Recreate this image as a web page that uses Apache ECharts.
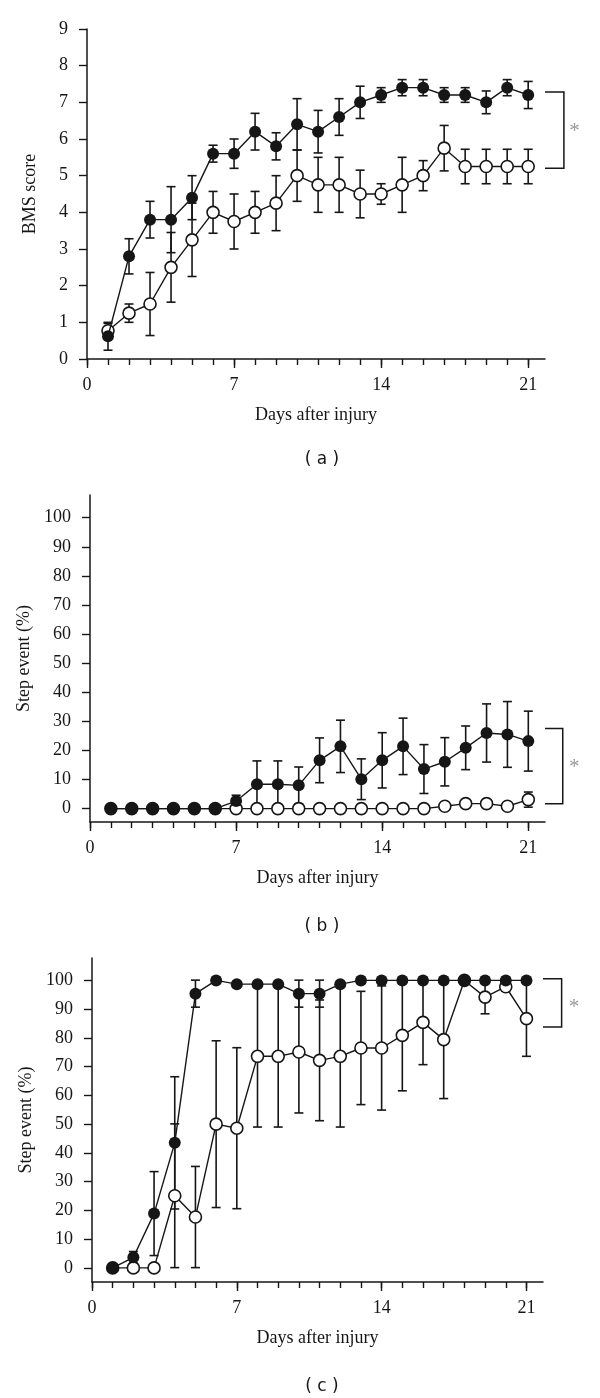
<!DOCTYPE html>
<html>
<head>
<meta charset="utf-8">
<script src="https://cdn.jsdelivr.net/npm/echarts@6/dist/echarts.min.js"></script>
<style>
html,body{margin:0;padding:0;background:#fff;}
#chart{width:600px;height:1398px;}
</style>
</head>
<body>
<div id="chart"></div>
<script>
// ---------- data ----------
const days = [1,2,3,4,5,6,7,8,9,10,11,12,13,14,15,16,17,18,19,20,21];
const dayTicks = [0,1,2,3,4,5,6,7,8,9,10,11,12,13,14,15,16,17,18,19,20,21];
const dayLabels = [0,7,14,21];
const bmsTicks = [0,1,2,3,4,5,6,7,8,9];
const pctTicks = [0,10,20,30,40,50,60,70,80,90,100];

// (a) BMS score
const aFilled    = [0.62,2.8,3.8,3.8,4.4,5.6,5.6,6.2,5.8,6.4,6.2,6.6,7.0,7.2,7.4,7.4,7.2,7.2,7.0,7.4,7.2];
const aFilledErr = [0.38,0.48,0.5,0.9,0.6,0.23,0.4,0.5,0.37,0.7,0.58,0.5,0.44,0.2,0.22,0.22,0.2,0.2,0.31,0.22,0.37];
const aOpen      = [0.77,1.25,1.5,2.5,3.25,4.0,3.75,4.0,4.25,5.0,4.75,4.75,4.5,4.5,4.75,5.0,5.75,5.25,5.25,5.25,5.25];
const aOpenErr   = [0.2,0.25,0.86,0.95,1.0,0.57,0.75,0.57,0.75,0.7,0.75,0.75,0.65,0.28,0.75,0.41,0.62,0.47,0.47,0.47,0.47];

// (b) Step event (%)
const bFilled    = [0,0,0,0,0,0,2.6,8.4,8.4,8.0,16.6,21.4,10.1,16.6,21.4,13.6,16.1,20.9,26.0,25.5,23.2];
const bFilledErr = [0,0,0,0,0,0,2.0,8.0,8.0,6.3,7.7,9.0,7.0,9.5,9.7,8.4,8.3,7.5,10.0,11.3,10.3];
const bOpen      = [0,0,0,0,0,0,0,0,0,0,0,0,0,0,0,0,0.8,1.7,1.7,0.8,3.1];
const bOpenErr   = [0,0,0,0,0,0,0,0,0,0,0,0,0,0,0,0,0,0,0,0,2.6];

// (c) Step event (%)
const cFilled    = [0,3.7,18.9,43.5,95.4,100,98.7,98.7,98.7,95.4,95.4,98.7,100,100,100,100,100,100,100,100,100];
const cFilledErr = [0,2.0,14.6,23.0,4.7,0,0,0,0,4.7,4.7,0,0,0,0,0,0,0,0,0,0];
const cOpen      = [0,0,0,25.1,17.7,50,48.6,73.6,73.6,75.1,72.2,73.6,76.5,76.5,80.9,85.4,79.4,100,94.2,97.8,86.7];
const cOpenErr   = [0,0,0,25,17.6,29,28,24.6,24.6,21.2,21,24.6,19.7,21.6,19.3,14.7,20.5,0,5.8,1.5,13.1];

// significance brackets [top, bottom] and label
const bracketA = [7.28, 5.2];
const bracketB = [27.5, 1.7];
const bracketC = [100.6, 83.8];
const starLabel = '*';
const panelLabels = ['( a )', '( b )', '( c )'];
const xName = 'Days after injury';
const yNames = ['BMS score', 'Step event (%)', 'Step event (%)'];

// ---------- layout ----------
const INK = '#161616';
const SERIF = '"Liberation Serif", "Times New Roman", serif';
const panels = [
  {grid:{left:87, top:29, width:458, height:330}, ymin:0, ymax:9, yTicks:bmsTicks,
   filled:aFilled, filledErr:aFilledErr, open:aOpen, openErr:aOpenErr, bracket:bracketA, starY:6.35, bx2:22.7, starX:23.2},
  {grid:{left:90, top:495, width:455, height:327}, ymin:-4.6, ymax:107.8, yTicks:pctTicks,
   filled:bFilled, filledErr:bFilledErr, open:bOpen, openErr:bOpenErr, bracket:bracketB, starY:16.0, bx2:22.65, starX:23.2},
  {grid:{left:92, top:958, width:451, height:324}, ymin:-4.9, ymax:107.8, yTicks:pctTicks,
   filled:cFilled, filledErr:cFilledErr, open:cOpen, openErr:cOpenErr, bracket:bracketC, starY:92.2, bx2:22.7, starX:23.3}
];
const XMAX = 21.8;

function errRender(params, api) {
  const x = api.value(0), y = api.value(1), e = api.value(2);
  if (!e) return null;
  const hi = api.coord([x, y + e]);
  const lo = api.coord([x, y - e]);
  const w = 4.5;
  const st = {stroke: INK, lineWidth: 1.6};
  return {type:'group', children:[
    {type:'line', shape:{x1:hi[0], y1:hi[1], x2:lo[0], y2:lo[1]}, style:st},
    {type:'line', shape:{x1:hi[0]-w, y1:hi[1], x2:hi[0]+w, y2:hi[1]}, style:st},
    {type:'line', shape:{x1:lo[0]-w, y1:lo[1], x2:lo[0]+w, y2:lo[1]}, style:st}
  ]};
}

function bracketRender(params, api) {
  const x1 = api.value(0), x2 = api.value(1), top = api.value(2), bot = api.value(3);
  const a = api.coord([x1, top]), b = api.coord([x2, top]);
  const c = api.coord([x2, bot]), d = api.coord([x1, bot]);
  return {type:'polyline', shape:{points:[a, b, c, d]},
          style:{stroke: INK, lineWidth: 1.5, fill: null}};
}

const grids = [], xAxes = [], yAxes = [], series = [];
panels.forEach((p, i) => {
  grids.push(p.grid);
  xAxes.push({
    type:'value', gridIndex:i, min:0, max:XMAX,
    name: xName, nameLocation:'middle', nameGap:47,
    nameTextStyle:{fontFamily:SERIF, fontSize:18, color:INK},
    axisLine:{show:true, onZero:false, lineStyle:{color:INK, width:1.5}},
    axisTick:{show:true, customValues:dayTicks, length:6, lineStyle:{color:INK, width:1.4}},
    axisLabel:{customValues:dayLabels, margin:17, fontFamily:SERIF, fontSize:18, color:INK},
    splitLine:{show:false}
  });
  xAxes.push({
    type:'value', gridIndex:i, min:0, max:XMAX, position:'bottom',
    axisLine:{show:false, onZero:false},
    axisTick:{show:true, customValues:dayLabels, length:9, lineStyle:{color:INK, width:1.4}},
    axisLabel:{show:false}, splitLine:{show:false}
  });
  yAxes.push({
    type:'value', gridIndex:i, min:p.ymin, max:p.ymax,
    name: yNames[i], nameLocation:'middle', nameGap:48,
    nameTextStyle:{fontFamily:SERIF, fontSize:18, color:INK},
    axisLine:{show:true, onZero:false, lineStyle:{color:INK, width:1.5}},
    axisTick:{show:true, customValues:p.yTicks, length:8, lineStyle:{color:INK, width:1.4}},
    axisLabel:{customValues:p.yTicks, margin:19, fontFamily:SERIF, fontSize:18, color:INK},
    splitLine:{show:false}
  });
  const xi = i * 2;
  series.push({
    type:'custom', xAxisIndex:xi, yAxisIndex:i, renderItem:errRender, z:1, silent:true,
    data: days.map((d, k) => [d, p.open[k], p.openErr[k]])
  });
  series.push({
    type:'custom', xAxisIndex:xi, yAxisIndex:i, renderItem:errRender, z:1, silent:true,
    data: days.map((d, k) => [d, p.filled[k], p.filledErr[k]])
  });
  series.push({
    type:'line', xAxisIndex:xi, yAxisIndex:i, z:3, silent:true, animation:false,
    symbol:'circle', symbolSize:12, showAllSymbol:true,
    lineStyle:{color:INK, width:1.4},
    itemStyle:{color:'#ffffff', borderColor:INK, borderWidth:1.6},
    data: days.map((d, k) => [d, p.open[k]])
  });
  series.push({
    type:'line', xAxisIndex:xi, yAxisIndex:i, z:4, silent:true, animation:false,
    symbol:'circle', symbolSize:12, showAllSymbol:true,
    lineStyle:{color:INK, width:1.4},
    itemStyle:{color:INK, borderColor:INK, borderWidth:0},
    data: days.map((d, k) => [d, p.filled[k]])
  });
  // significance bracket
  series.push({
    type:'custom', xAxisIndex:xi, yAxisIndex:i, z:2, silent:true, clip:false,
    renderItem: bracketRender,
    data: [[XMAX, p.bx2, p.bracket[0], p.bracket[1]]]
  });
  series.push({
    type:'scatter', xAxisIndex:xi, yAxisIndex:i, z:2, silent:true, animation:false, clip:false,
    symbolSize:1, itemStyle:{color:'rgba(0,0,0,0)'},
    label:{show:true, formatter:starLabel, position:'inside', offset:[0,5],
           fontFamily:SERIF, fontSize:21, color:'#808080'},
    data: [[p.starX, p.starY]]
  });
});

const chart = echarts.init(document.getElementById('chart'), null, {renderer:'canvas'});
chart.setOption({
  animation:false,
  backgroundColor:'#ffffff',
  grid: grids, xAxis: xAxes, yAxis: yAxes, series: series,
  graphic: panelLabels.map((t, i) => ({
    type:'text', x: 322, y: [460, 927, 1387][i],
    style:{text:t, fontFamily:'"DejaVu Sans", sans-serif', fontSize:17, fill:INK,
           textAlign:'center', textVerticalAlign:'middle'}
  }))
});
</script>
</body>
</html>
